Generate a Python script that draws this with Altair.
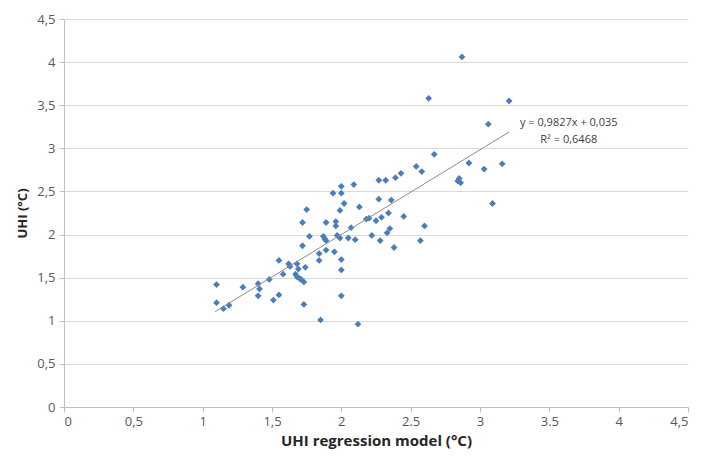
import altair as alt
import pandas as pd

# Scatter data (UHI regression model vs observed UHI)
x_model = [1.10, 1.10, 1.15, 1.19, 1.29, 1.40, 1.41, 1.40, 1.48, 1.51, 1.55, 1.55, 1.58, 1.62, 1.63,
           1.68, 1.69, 1.67, 1.68, 1.70, 1.71, 1.73, 1.74, 1.73, 1.72, 1.72, 1.75, 1.77, 1.84, 1.84,
           1.85, 1.87, 1.88, 1.89, 1.89, 1.89, 1.95, 1.94, 1.96, 1.96, 1.97, 1.99, 2.00, 2.00, 2.00,
           2.00, 2.00, 1.99, 2.02, 2.05, 2.07, 2.09, 2.10, 2.12, 2.13, 2.18, 2.20, 2.22, 2.25, 2.27,
           2.27, 2.28, 2.29, 2.32, 2.33, 2.34, 2.35, 2.36, 2.38, 2.39, 2.43, 2.45, 2.54, 2.57, 2.58,
           2.60, 2.63, 2.67, 2.84, 2.85, 2.86, 2.87, 2.92, 3.03, 3.06, 3.09, 3.16, 3.21]
y_uhi = [1.42, 1.21, 1.14, 1.18, 1.39, 1.43, 1.37, 1.29, 1.48, 1.24, 1.30, 1.70, 1.54, 1.66, 1.63,
         1.66, 1.60, 1.54, 1.51, 1.49, 1.48, 1.45, 1.62, 1.19, 1.87, 2.14, 2.29, 1.98, 1.78, 1.70,
         1.01, 1.98, 1.95, 1.93, 1.82, 2.14, 1.80, 2.48, 2.15, 2.10, 1.99, 1.96, 1.71, 1.59, 1.29,
         2.56, 2.48, 2.28, 2.36, 1.96, 2.08, 2.58, 1.94, 0.96, 2.32, 2.18, 2.19, 1.99, 2.16, 2.63,
         2.41, 1.93, 2.20, 2.63, 2.02, 2.25, 2.07, 2.40, 1.85, 2.66, 2.71, 2.21, 2.79, 1.93, 2.73,
         2.10, 3.58, 2.93, 2.62, 2.65, 2.60, 4.06, 2.83, 2.76, 3.28, 2.36, 2.82, 3.55]

# Linear trendline (from the chart's equation)
slope = 0.9827
intercept = 0.035
trend_x = [1.09, 3.21]

x_tick_labels = ["0", "0,5", "1", "1,5", "2", "2.5", "3", "3.5", "4", "4,5"]
y_tick_labels = ["0", "0,5", "1", "1,5", "2", "2,5", "3", "3,5", "4", "4,5"]
tick_values = [0, 0.5, 1, 1.5, 2, 2.5, 3, 3.5, 4, 4.5]

eq_lines = ["y = 0,9827x + 0,035", "R² = 0,6468"]
eq_x = [3.64, 3.64]
eq_y = [3.29, 3.10]

pts = pd.DataFrame({"x": x_model, "y": y_uhi})
trend = pd.DataFrame({"x": trend_x})
eq = pd.DataFrame({"t": eq_lines, "x": eq_x, "y": eq_y})

FONT = "Open Sans"
xlab = "[" + ",".join("'%s'" % s for s in x_tick_labels) + "][round(datum.value*2)]"
ylab = "[" + ",".join("'%s'" % s for s in y_tick_labels) + "][round(datum.value*2)]"

xscale = alt.Scale(domain=[0, 4.5], nice=False, zero=False)
yscale = alt.Scale(domain=[0, 4.5], nice=False, zero=False)

xaxis = alt.Axis(values=tick_values, labelExpr=xlab, grid=False, title="UHI regression model (°C)",
                 domainColor="#bfbfbf", tickColor="#bfbfbf", tickSize=5, labelFont=FONT,
                 labelFontSize=13, labelColor="#595959", labelPadding=3, titleFont=FONT,
                 titleFontSize=15, titleFontWeight="bold", titleColor="#262626", titlePadding=5)
yaxis = alt.Axis(values=tick_values, labelExpr=ylab, grid=True, gridColor="#d9d9d9",
                 title="UHI (°C)", domainColor="#bfbfbf", tickColor="#bfbfbf", tickSize=5,
                 labelFont=FONT, labelFontSize=13, labelColor="#595959", labelPadding=4,
                 titleFont=FONT, titleFontSize=13, titleFontWeight="bold", titleColor="#262626",
                 titlePadding=7)

points = alt.Chart(pts).mark_point(shape="diamond", filled=True, size=46, color="#4a7ebb",
                                   opacity=1).encode(
    x=alt.X("x:Q", scale=xscale, axis=xaxis),
    y=alt.Y("y:Q", scale=yscale, axis=yaxis),
)

line = alt.Chart(trend).transform_calculate(
    y="%f * datum.x + %f" % (slope, intercept)
).mark_line(color="#8c8c8c", strokeWidth=1).encode(
    x=alt.X("x:Q", scale=xscale),
    y=alt.Y("y:Q", scale=yscale),
)

text = alt.Chart(eq).mark_text(font=FONT, fontSize=11, color="#404040", align="center",
                               baseline="middle").encode(
    x=alt.X("x:Q", scale=xscale),
    y=alt.Y("y:Q", scale=yscale),
    text="t:N",
)

chart = alt.layer(points, line, text).properties(
    width=624, height=388,
    autosize=alt.AutoSizeParams(type="none"),
    padding={"left": 56, "top": 11, "right": 6, "bottom": 42},
).configure_view(stroke=None)

chart.save("out.html", embed_options={"renderer": "svg", "actions": False})
